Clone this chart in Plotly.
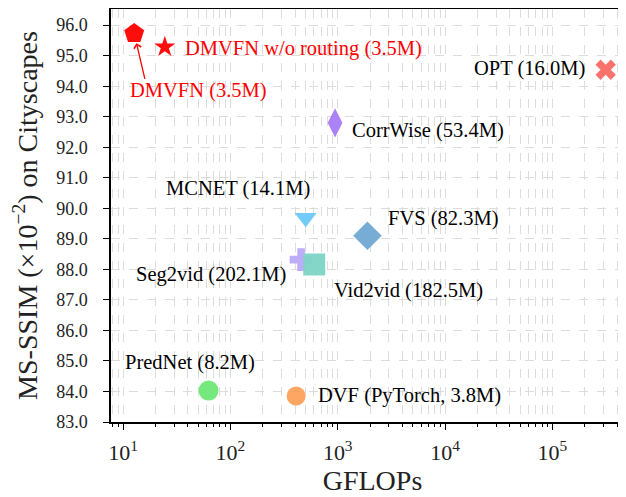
import numpy as np
import plotly.graph_objects as go

# ---- data ----
models = ["DMVFN", "DMVFN w/o routing", "OPT", "CorrWise", "MCNET", "FVS",
          "Seg2vid", "Vid2vid", "PredNet", "DVF"]
labels = ["DMVFN (3.5M)", "DMVFN w/o routing (3.5M)", "OPT (16.0M)", "CorrWise (53.4M)",
          "MCNET (14.1M)", "FVS (82.3M)", "Seg2vid (202.1M)", "Vid2vid (182.5M)",
          "PredNet (8.2M)", "DVF (PyTorch, 3.8M)"]
gflops = [12.71, 24.51, 313482.15, 944.51, 502.80, 1891.65, 455.84, 603.79, 62.62, 409.78]
ms_ssim = [95.73, 95.29, 94.54, 92.80, 89.69, 89.10, 88.32, 88.16, 84.03, 83.85]
x_tick_vals = [1e1, 1e2, 1e3, 1e4, 1e5]
x_tick_text = ["10<sup>1</sup>", "10<sup>2</sup>", "10<sup>3</sup>", "10<sup>4</sup>", "10<sup>5</sup>"]

# ---- styles ----
symbols = ["pentagon", "star", "x", "diamond-tall", "triangle-down", "diamond",
           "cross", "square", "circle", "circle"]
sizes = [21, 16, 18, 21, 19, 22, 19, 22, 20, 19]
colors = ["#ff0000", "#ff0000", "#fa6a64", "#a77cf5", "#6cc8f7", "#70a9d3",
          "#bba8fb", "#7dd4c6", "#6ee877", "#fda15c"]
text_colors = ["#ff0000", "#ff0000"] + ["#000000"] * 8
# label placement: (xanchor, xshift px, yshift px)
placement = [("left", -6, -57), ("left", 18, -2), ("right", -19, 1), ("left", 15, -8),
             ("center", -68, 29), ("left", 19, 17), ("right", -13, -15), ("left", 18, -26),
             ("left", -86, 28), ("left", 20, 1)]

FONT = "Liberation Serif, Times New Roman, serif"

fig = go.Figure()
for i, m in enumerate(models):
    fig.add_trace(go.Scatter(
        x=[gflops[i]], y=[ms_ssim[i]], mode="markers", name=m,
        marker=dict(symbol=symbols[i], size=sizes[i], color=colors[i],
                    opacity=0.95, line=dict(width=0)),
        showlegend=False, cliponaxis=False))

annotations = []
for i, lab in enumerate(labels):
    xa, xs, ys = placement[i]
    annotations.append(dict(
        x=np.log10(gflops[i]), y=ms_ssim[i], xref="x", yref="y", text=lab,
        showarrow=False, xanchor=xa, yanchor="middle", xshift=xs, yshift=ys,
        font=dict(family=FONT, size=20.5, color=text_colors[i])))
# arrow from DMVFN label to its marker
annotations.append(dict(
    x=np.log10(gflops[0]), y=ms_ssim[0], xref="x", yref="y", text="",
    showarrow=True, ax=11, ay=47, axref="pixel", ayref="pixel",
    arrowhead=4, arrowsize=1.1, arrowwidth=1.3, arrowcolor="#ff0000", standoff=10))

minor_vals = [k * 10 ** d for d in range(0, 6) for k in range(2, 10)]

grid_color = "#dcdcdc"
fig.update_layout(
    width=626, height=497,
    margin=dict(l=103, r=0, t=1, b=83, autoexpand=False),
    plot_bgcolor="white", paper_bgcolor="white",
    font=dict(family=FONT, color="black"),
    annotations=annotations,
    xaxis=dict(
        type="log", range=[0.888, 5.76], automargin=False,
        tickvals=x_tick_vals, ticktext=x_tick_text,
        tickfont=dict(family=FONT, size=22, color="#222222"),
        ticks="outside", ticklen=6, tickwidth=1.2, tickcolor="black",
        ticklabelstandoff=4,
        showline=True, linecolor="black", linewidth=1.5, mirror=True,
        showgrid=True, gridcolor=grid_color, griddash="dash", gridwidth=1,
        minor=dict(tickvals=minor_vals, ticks="outside", ticklen=3, tickwidth=1,
                   tickcolor="black", showgrid=True, gridcolor=grid_color,
                   griddash="dash", gridwidth=1),
        zeroline=False,
        title=dict(text="GFLOPs", font=dict(family=FONT, size=28, color="#222222"),
                   standoff=6),
    ),
    yaxis=dict(
        range=[83.0, 96.53], dtick=1, tick0=83, tickformat=".1f", automargin=False,
        tickfont=dict(family=FONT, size=18, color="#222222"),
        ticks="outside", ticklen=6, tickwidth=1.2, tickcolor="black",
        ticklabelstandoff=12,
        showline=True, linecolor="black", linewidth=1.5,
        showgrid=True, gridcolor=grid_color, griddash="dash", gridwidth=1,
        zeroline=False,
        title=dict(text="MS-SSIM (×10<sup>−2</sup>) on Cityscapes",
                   font=dict(family=FONT, size=28, color="#222222"), standoff=12),
    ),
)

fig.write_html("out.html")
